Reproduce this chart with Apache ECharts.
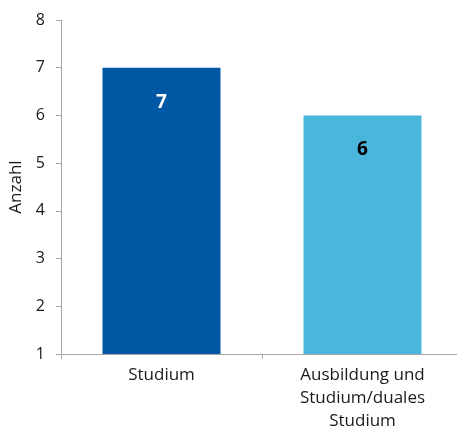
<!DOCTYPE html>
<html>
<head>
<meta charset="utf-8">
<script src="https://cdn.jsdelivr.net/npm/echarts@6/dist/echarts.min.js"></script>
<style>
  html, body { margin: 0; padding: 0; background: #fff; }
  #chart { width: 457px; height: 432px; }
</style>
</head>
<body>
<div id="chart"></div>
<script>
// Data
const categories = ['Studium', 'Ausbildung und\nStudium/duales\nStudium'];
const values = [7, 6];
const barColors = ['#0058a5', '#4ab6dc'];
const labelColors = ['#ffffff', '#000000'];

const chart = echarts.init(document.getElementById('chart'));

const axisGray = '#a6a6a6';

const option = {
    animation: false,
    textStyle: { fontFamily: 'Open Sans' },
    grid: { left: 61, top: 20, width: 402, height: 334, outerBoundsMode: 'none', containLabel: false },
    xAxis: {
        type: 'category',
        data: categories,
        axisLine: { lineStyle: { color: axisGray } },
        axisTick: { show: true, length: 5, lineStyle: { color: axisGray } },
        axisLabel: {
            color: '#1a1a1a',
            fontSize: 17,
            lineHeight: 23,
            margin: 10,
            interval: 0
        }
    },
    yAxis: {
        type: 'value',
        min: 1,
        max: 8,
        interval: 1,
        name: 'Anzahl',
        nameLocation: 'middle',
        nameGap: 35,
        nameTextStyle: { color: '#1a1a1a', fontSize: 17 },
        axisLine: { show: true, lineStyle: { color: axisGray } },
        axisTick: { show: true, length: 5, lineStyle: { color: axisGray } },
        axisLabel: { color: '#1a1a1a', fontSize: 16, margin: 16 },
        splitLine: { show: false }
    },
    series: [{
        type: 'bar',
        barWidth: 118,
        data: values.map((v, i) => ({
            value: v,
            itemStyle: { color: barColors[i] },
            label: { color: labelColors[i] }
        })),
        label: {
            show: true,
            position: 'insideTop',
            distance: 25,
            fontSize: 19,
            fontWeight: 'bold'
        }
    }]
};

chart.setOption(option);
</script>
</body>
</html>
